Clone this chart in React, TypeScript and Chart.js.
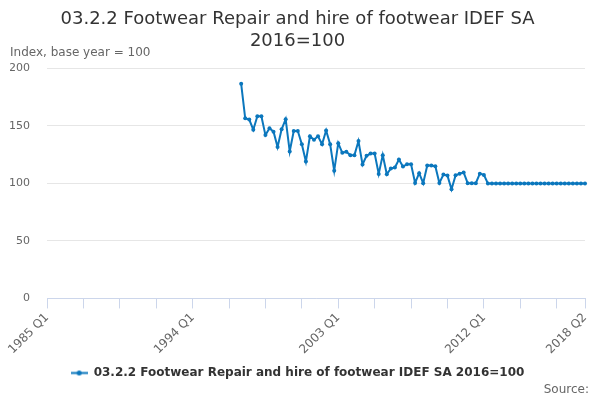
import React, { useEffect, useRef } from 'react';
import { Chart, registerables } from 'chart.js';

Chart.register(...registerables);

// ---- data ----
const startYear = 1985;
const endYear = 2018;
const endQuarter = 2;
const quarterLabels: string[] = [];
for (let y = startYear; y <= endYear; y++) {
  for (let q = 1; q <= 4; q++) {
    if (y === endYear && q > endQuarter) break;
    quarterLabels.push(`${y} Q${q}`);
  }
}
// 1985 Q1 .. 1996 Q4 carry no values
const missingQuarters = 48;
// 1997 Q1 .. 2018 Q2
const indexValues: number[] = [
  186.6, 156.6, 155.5, 146.7, 158.4, 158.4, 142, 148, 145, 131.6,
  147, 155.8, 127.8, 145.6, 145.6, 134, 119, 141, 138, 141,
  134, 146, 134, 111, 135, 126.6, 127.5, 124.6, 124.6, 136.8,
  116.5, 124, 126, 126, 108.3, 124.6, 108, 113, 113.8, 120.8,
  114.7, 116.7, 116.7, 100.4, 108.9, 100.2, 115.5, 115.5, 115, 100.4,
  107.7, 106.8, 94.9, 107, 108.5, 109.5, 100.2, 100.2, 100.2, 108.5,
  107.4, 100, 100, 100, 100, 100, 100, 100, 100, 100,
  100, 100, 100, 100, 100, 100, 100, 100, 100, 100,
  100, 100, 100, 100, 100, 100,
];
const seriesValues: (number | null)[] = Array(missingQuarters).fill(null).concat(indexValues);

const seriesName = '03.2.2 Footwear Repair and hire of footwear IDEF SA 2016=100';
const titleLines = ['03.2.2 Footwear Repair and hire of footwear IDEF SA', '2016=100'];
const unitCaption = 'Index, base year = 100';
const sourceCaption = 'Source:';
const labelledQuarters = ['1985 Q1', '1994 Q1', '2003 Q1', '2012 Q1', '2018 Q2'];
const tickStep = 9;

const lineColor = '#0b77bd';
const fontFamily = '"DejaVu Sans", sans-serif';

export default function App() {
  const ref = useRef<HTMLCanvasElement | null>(null);

  useEffect(() => {
    document.body.style.margin = '0';
    const canvas = ref.current;
    if (!canvas) return;

    const marker = document.createElement('canvas');
    marker.width = 17;
    marker.height = 7;
    const mctx = marker.getContext('2d')!;
    mctx.strokeStyle = lineColor;
    mctx.lineWidth = 2;
    mctx.beginPath();
    mctx.moveTo(0, 3.5);
    mctx.lineTo(17, 3.5);
    mctx.stroke();
    mctx.fillStyle = lineColor;
    mctx.beginPath();
    mctx.arc(8.5, 3.5, 2.5, 0, Math.PI * 2);
    mctx.fill();

    const sourcePlugin = {
      id: 'sourceText',
      afterDraw(chart: any) {
        const c = chart.ctx;
        c.save();
        c.font = `12px ${fontFamily}`;
        c.fillStyle = '#666666';
        c.textAlign = 'right';
        c.textBaseline = 'middle';
        c.fillText(sourceCaption, 589, 390);
        c.restore();
      },
    };

    const chart = new Chart(canvas, {
      type: 'line',
      data: {
        labels: quarterLabels,
        datasets: [
          {
            label: seriesName,
            data: seriesValues,
            borderColor: lineColor,
            backgroundColor: lineColor,
            borderWidth: 2,
            pointRadius: 2,
            pointHoverRadius: 3,
            pointBackgroundColor: lineColor,
            pointBorderWidth: 0,
            tension: 0,
            spanGaps: false,
          },
        ],
      },
      options: {
        animation: false,
        responsive: false,
        maintainAspectRatio: false,
        layout: { padding: { left: 10, right: 15, top: 0, bottom: 11 } },
        plugins: {
          title: {
            display: true,
            text: titleLines,
            color: '#333333',
            font: { family: fontFamily, size: 18, weight: 'normal', lineHeight: 1.25 },
            padding: { top: 8, bottom: 0 },
          },
          subtitle: {
            display: true,
            text: unitCaption,
            align: 'start',
            color: '#666666',
            font: { family: fontFamily, size: 12, weight: 'normal' },
            padding: { top: -7, bottom: 8 },
          },
          legend: {
            display: true,
            position: 'bottom',
            labels: {
              usePointStyle: true,
              pointStyleWidth: 17,
              color: '#333333',
              font: { family: fontFamily, size: 12, weight: 'bold' },
              padding: 8,
              generateLabels: () => [
                {
                  text: seriesName,
                  pointStyle: marker,
                  fillStyle: lineColor,
                  strokeStyle: lineColor,
                  lineWidth: 0,
                  hidden: false,
                  datasetIndex: 0,
                  fontColor: '#333333',
                },
              ],
            },
          },
          tooltip: { enabled: false },
        },
        scales: {
          x: {
            type: 'category',
            offset: false,
            grid: {
              display: true,
              drawOnChartArea: false,
              drawTicks: true,
              tickLength: 10,
              color: '#ccd6eb',
            },
            border: { display: true, color: '#ccd6eb', width: 1 },
            afterBuildTicks: (scale: any) => {
              const last = scale.ticks.length - 1;
              scale.ticks = scale.ticks.filter((t: any, i: number) => i % tickStep === 0 || i === last);
            },
            ticks: {
              autoSkip: false,
              maxRotation: 45,
              minRotation: 45,
              color: '#666666',
              font: { family: fontFamily, size: 12 },
              padding: 2,
              callback: function (this: any, value: any) {
                const lab = this.getLabelForValue(value);
                return labelledQuarters.includes(lab) ? lab : '';
              },
            },
          },
          y: {
            min: 0,
            max: 200,
            grid: { color: '#e6e6e6', drawTicks: false },
            border: { display: false },
            afterFit: (scale: any) => {
              scale.width = 37;
            },
            ticks: {
              stepSize: 50,
              color: '#666666',
              font: { family: fontFamily, size: 11 },
              padding: 17,
            },
          },
        },
      },
      plugins: [sourcePlugin],
    });

    return () => chart.destroy();
  }, []);

  return (
    <div style={{ width: 600, height: 400 }}>
      <canvas ref={ref} width={600} height={400} style={{ width: 600, height: 400, display: 'block' }} />
    </div>
  );
}
